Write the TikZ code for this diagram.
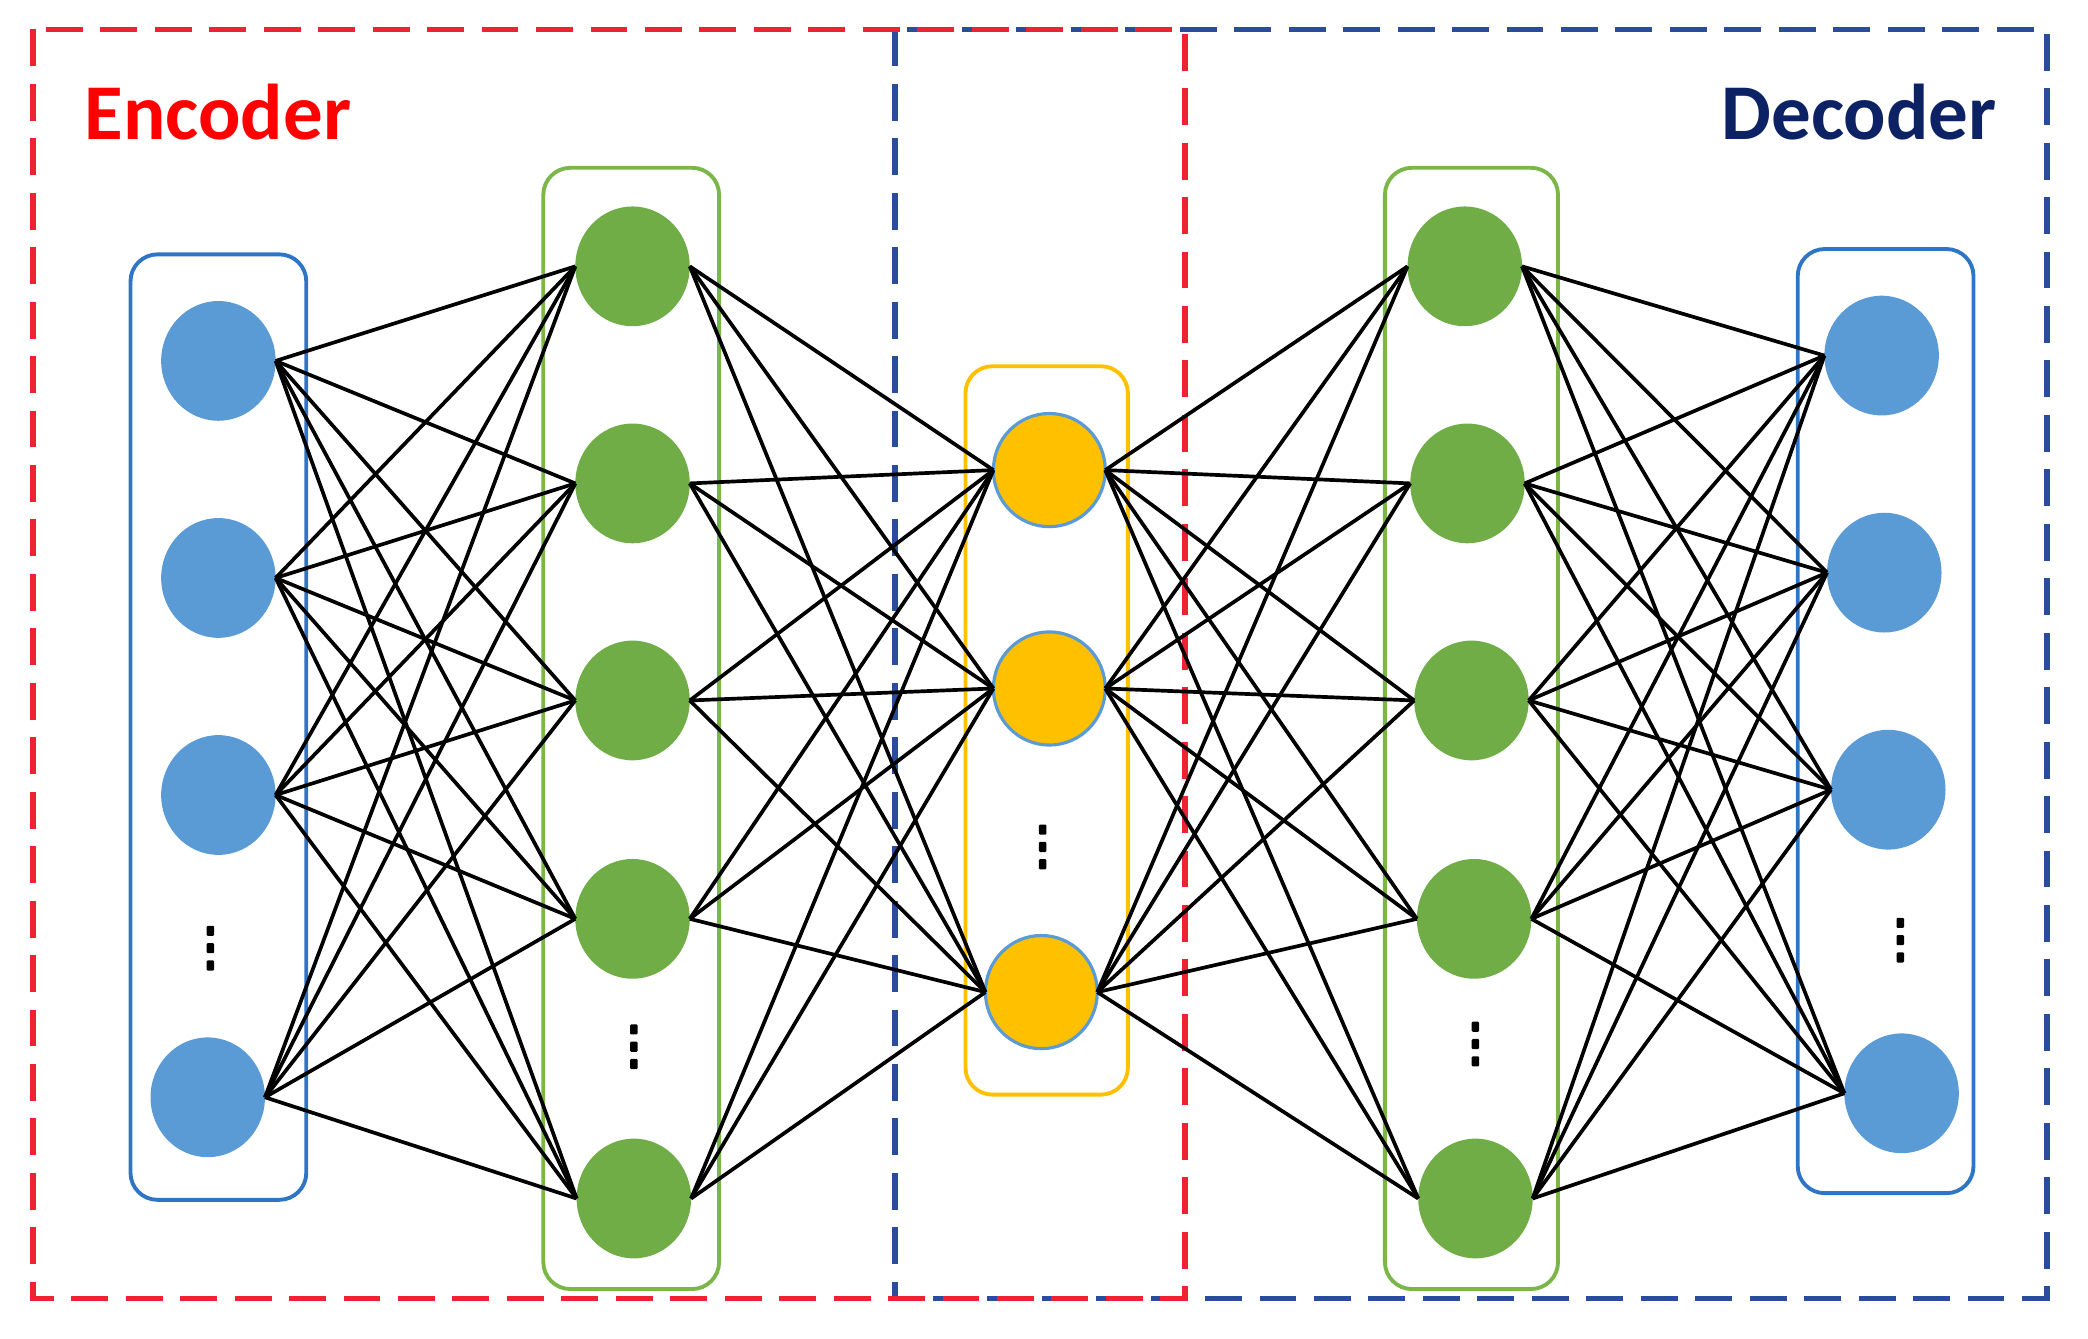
\documentclass[tikz,border=0pt]{standalone}
\usepackage{fontspec}
\setmainfont{Carlito}
\usetikzlibrary{shapes.geometric}
\definecolor{nblue}{HTML}{5B9BD5}
\definecolor{ngreen}{HTML}{70AD47}
\definecolor{norange}{HTML}{FFC000}
\definecolor{bxblue}{HTML}{2E75C6}
\definecolor{bxgreen}{HTML}{7AB648}
\definecolor{frred}{HTML}{EE2233}
\definecolor{frblue}{HTML}{2A4C9C}
\definecolor{txred}{HTML}{FF0000}
\definecolor{txnavy}{HTML}{0C2264}
\pgfdeclarelayer{background}
\pgfsetlayers{background,main}
\begin{document}
\begin{tikzpicture}[x=0.013316cm,y=-0.013316cm,
  bnode/.style={ellipse,fill=nblue,minimum width=1.145cm,minimum height=1.198cm,inner sep=0pt,outer sep=0pt},
  gnode/.style={ellipse,fill=ngreen,minimum width=1.145cm,minimum height=1.198cm,inner sep=0pt,outer sep=0pt},
  onode/.style={ellipse,fill=norange,draw=nblue,line width=0.9pt,minimum width=1.119cm,minimum height=1.132cm,inner sep=0pt,outer sep=0pt},
  layerbox/.style={rounded corners=0.27cm,line width=1.1pt},
  conn/.style={line width=1.05pt,draw=black},
  frame/.style={dash pattern=on 10.5pt off 5pt,line width=1.6pt},
  title/.style={font=\bfseries\fontsize{22.5}{27}\selectfont,inner sep=0pt}]
\useasboundingbox (0,0) rectangle (1568,1005);

% layer 1 (input)
\node[bnode] (a1) at (164,271) {};
\node[bnode] (a2) at (164,434) {};
\node[bnode] (a3) at (164,597) {};
\node[bnode] (a4) at (156,824) {};
% layer 2
\node[gnode] (b1) at (475,200) {};
\node[gnode] (b2) at (475,363) {};
\node[gnode] (b3) at (475,526) {};
\node[gnode] (b4) at (475,690) {};
\node[gnode] (b5) at (476,900) {};
% layer 3 (latent)
\node[onode] (c1) at (788,353) {};
\node[onode] (c2) at (788,517) {};
\node[onode] (c3) at (782,745) {};
% layer 4
\node[gnode] (d1) at (1100,200) {};
\node[gnode] (d2) at (1102,363) {};
\node[gnode] (d3) at (1105,526) {};
\node[gnode] (d4) at (1107,690) {};
\node[gnode] (d5) at (1108,900) {};
% layer 5 (output)
\node[bnode] (e1) at (1413,267) {};
\node[bnode] (e2) at (1415,430) {};
\node[bnode] (e3) at (1418,593) {};
\node[bnode] (e4) at (1428,821) {};

% titles
\node[title,text=txred,anchor=base west] (enc) at (63,105) {Encoder};
\node[title,text=txnavy,anchor=base east] (dec) at (1500,105) {Decoder};

\begin{pgfonlayer}{background}
  \draw[frame,draw=frblue] (672,22) rectangle (1537,975);
  \draw[frame,draw=frred] (25,22) rectangle (890,975);
  \draw[layerbox,draw=bxblue] (98,191) rectangle (230,901);
  \draw[layerbox,draw=bxgreen] (408,126) rectangle (540,968);
  \draw[layerbox,draw=norange] (725,275) rectangle (847,822);
  \draw[layerbox,draw=bxgreen] (1040,126) rectangle (1170,968);
  \draw[layerbox,draw=bxblue] (1350,187) rectangle (1482,896);
\end{pgfonlayer}

% connections
\foreach \i in {1,...,4} \foreach \j in {1,...,5} \draw[conn] (a\i.east) -- (b\j.west);
\foreach \i in {1,...,5} \foreach \j in {1,...,3} \draw[conn] (b\i.east) -- (c\j.west);
\foreach \i in {1,...,3} \foreach \j in {1,...,5} \draw[conn] (c\i.east) -- (d\j.west);
\foreach \i in {1,...,5} \foreach \j in {1,...,4} \draw[conn] (d\i.east) -- (e\j.west);

% vertical ellipsis dots
\foreach \x/\y in {158/712, 476/786, 783/636, 1108/784, 1427/706} {
  \foreach \d in {-13,0,13}
    \fill[black,rounded corners=0.3pt] ({\x-2.8},{\y+\d-3.8}) rectangle ({\x+2.8},{\y+\d+3.8});
}
\end{tikzpicture}
\end{document}
